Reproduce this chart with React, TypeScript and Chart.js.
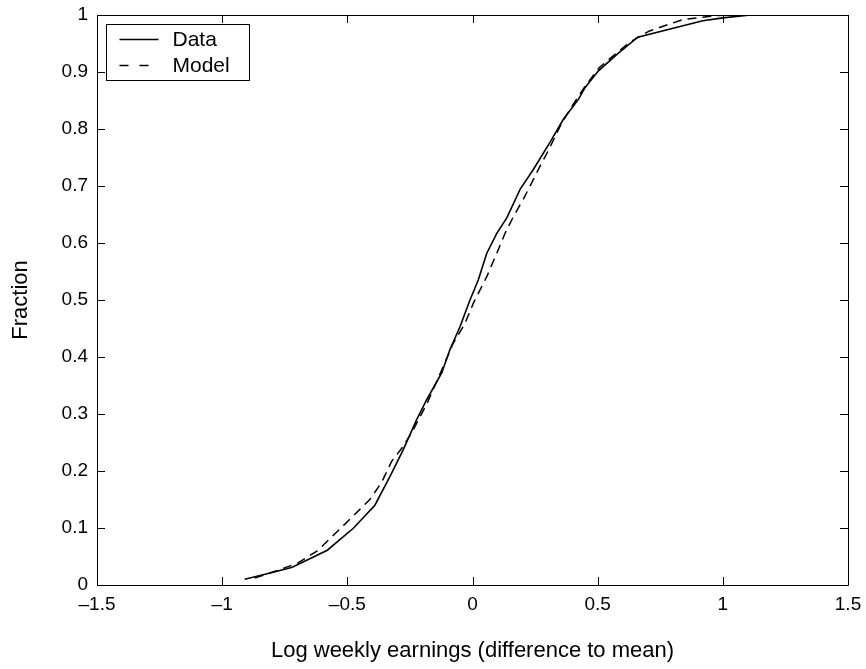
import React, { useEffect, useRef } from "react";
import { Chart, registerables } from "chart.js";

Chart.register(...registerables);

const dataX = [-0.91, -0.8, -0.72, -0.58, -0.475, -0.39, -0.33, -0.277, -0.223, -0.183, -0.123, -0.09, -0.05, -0.01, 0.023, 0.057, 0.097, 0.137, 0.19, 0.243, 0.31, 0.363, 0.423, 0.45, 0.503, 0.577, 0.66, 0.92, 1.0, 1.11];
const dataY = [0.01, 0.022, 0.031, 0.061, 0.1, 0.14, 0.19, 0.237, 0.29, 0.325, 0.372, 0.413, 0.453, 0.5, 0.535, 0.582, 0.617, 0.644, 0.694, 0.729, 0.777, 0.817, 0.852, 0.873, 0.902, 0.931, 0.961, 0.99, 0.995, 1.0];

const modelX = [-0.87, -0.77, -0.7, -0.62, -0.53, -0.463, -0.41, -0.363, -0.323, -0.277, -0.237, -0.18, -0.13, -0.077, -0.03, 0.003, 0.057, 0.097, 0.13, 0.163, 0.203, 0.237, 0.27, 0.303, 0.35, 0.39, 0.45, 0.507, 0.627, 0.707, 0.84, 0.973, 1.05];
const modelY = [0.012, 0.027, 0.038, 0.06, 0.098, 0.127, 0.15, 0.18, 0.217, 0.243, 0.272, 0.32, 0.37, 0.424, 0.459, 0.494, 0.541, 0.582, 0.617, 0.646, 0.677, 0.706, 0.735, 0.762, 0.805, 0.835, 0.875, 0.908, 0.952, 0.972, 0.992, 0.999, 1.0];

const seriesLabels = ["Data", "Model"];
const xTitle = "Log weekly earnings (difference to mean)";
const yTitle = "Fraction";

const FONT = "'Liberation Sans', Arial, Helvetica, sans-serif";

const fmt = (v: number) => {
  const s = String(Number(v.toFixed(2)));
  return s.replace("-", "\u2013");
};

const framePlugin = {
  id: "frameTicks",
  afterDraw(chart: any) {
    const { ctx, chartArea } = chart;
    const { left, right, top, bottom } = chartArea;
    const xs = chart.scales.x;
    const ys = chart.scales.y;
    const len = 8;
    ctx.save();
    ctx.strokeStyle = "#000";
    ctx.lineWidth = 1;
    ctx.beginPath();
    ctx.rect(Math.round(left) + 0.5, Math.round(top) + 0.5, Math.round(right - left), Math.round(bottom - top));
    ctx.stroke();
    ctx.beginPath();
    xs.ticks.forEach((t: any) => {
      const px = Math.round(xs.getPixelForValue(t.value)) + 0.5;
      ctx.moveTo(px, bottom);
      ctx.lineTo(px, bottom - len);
      ctx.moveTo(px, top);
      ctx.lineTo(px, top + len);
    });
    ys.ticks.forEach((t: any) => {
      const py = Math.round(ys.getPixelForValue(t.value)) + 0.5;
      ctx.moveTo(left, py);
      ctx.lineTo(left + len, py);
      ctx.moveTo(right, py);
      ctx.lineTo(right - len, py);
    });
    ctx.stroke();

    // legend box
    const bx = Math.round(left) + 9.5;
    const by = Math.round(top) + 9.5;
    const bw = 143;
    const bh = 56;
    ctx.fillStyle = "#fff";
    ctx.fillRect(bx, by, bw, bh);
    ctx.strokeRect(bx, by, bw, bh);
    ctx.font = `21px ${FONT}`;
    ctx.textBaseline = "middle";
    ctx.textAlign = "left";
    chart.data.datasets.forEach((ds: any, i: number) => {
      const ly = by + 15 + i * 26;
      ctx.beginPath();
      ctx.lineWidth = ds.borderWidth;
      ctx.setLineDash(ds.borderDash ? [9, 11] : []);
      ctx.moveTo(bx + 13, ly);
      ctx.lineTo(bx + (ds.borderDash ? 43 : 52), ly);
      ctx.stroke();
      ctx.setLineDash([]);
      ctx.fillStyle = "#000";
      ctx.fillText(ds.label, bx + 66, ly + 1);
    });
    ctx.restore();
  },
};

export default function App() {
  const ref = useRef<HTMLCanvasElement | null>(null);
  useEffect(() => {
    if (!ref.current) return;
    const chart = new Chart(ref.current, {
      type: "scatter",
      data: {
        datasets: [
          {
            label: seriesLabels[0],
            data: dataX.map((x, i) => ({ x, y: dataY[i] })),
            showLine: true,
            borderColor: "#000",
            borderWidth: 1.6,
            pointRadius: 0,
            tension: 0,
          },
          {
            label: seriesLabels[1],
            data: modelX.map((x, i) => ({ x, y: modelY[i] })),
            showLine: true,
            borderColor: "#000",
            borderWidth: 1.5,
            borderDash: [9, 6],
            pointRadius: 0,
            tension: 0,
          },
        ],
      },
      options: {
        animation: false,
        responsive: false,
        layout: { padding: { left: 0, right: 18, top: 15, bottom: 0 } },
        plugins: { legend: { display: false }, tooltip: { enabled: false } },
        scales: {
          x: {
            type: "linear",
            min: -1.5,
            max: 1.5,
            grid: { display: false, drawTicks: false },
            border: { display: false },
            ticks: {
              stepSize: 0.5,
              color: "#000",
              font: { family: FONT, size: 19 },
              padding: 8,
              maxRotation: 0,
              callback: (v: any) => fmt(Number(v)),
            },
            title: {
              display: true,
              text: xTitle,
              color: "#000",
              font: { family: FONT, size: 22 },
              padding: { top: 0, bottom: 5 },
            },
            afterFit: (s: any) => {
              s.height = 84;
              s.paddingLeft = 0;
              s.paddingRight = 0;
            },
          },
          y: {
            type: "linear",
            min: 0,
            max: 1,
            grid: { display: false, drawTicks: false },
            border: { display: false },
            ticks: {
              stepSize: 0.1,
              color: "#000",
              font: { family: FONT, size: 19 },
              padding: 9,
              callback: (v: any) => fmt(Number(v)),
            },
            title: {
              display: true,
              text: yTitle,
              color: "#000",
              font: { family: FONT, size: 22 },
              padding: { top: 8, bottom: 0 },
            },
            afterFit: (s: any) => {
              s.width = 97;
              s.paddingTop = 0;
              s.paddingBottom = 0;
            },
          },
        },
      },
      plugins: [framePlugin],
    });
    return () => chart.destroy();
  }, []);
  return (
    <div style={{ position: "absolute", left: 0, top: 0, width: 866, height: 669, background: "#fff" }}>
      <canvas ref={ref} width={866} height={669} />
    </div>
  );
}
